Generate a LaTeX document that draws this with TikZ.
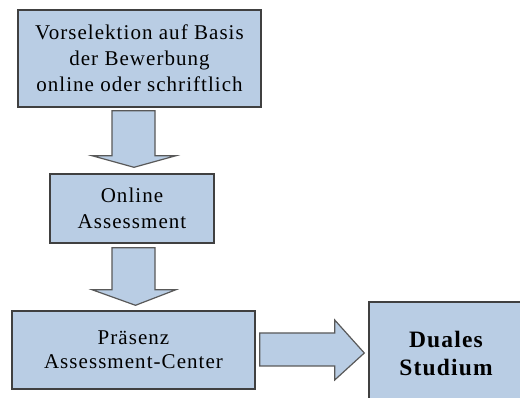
\documentclass[tikz,border=0pt]{standalone}
\usepackage{fontspec}
\setmainfont{Liberation Serif}[LetterSpace=5]
\begin{document}
\begin{tikzpicture}[x=1pt,y=-1pt,
  stepbox/.style={draw=black!75, line width=1.4pt, fill=boxblue, inner sep=0pt,
    align=center, font=\fontsize{21}{26}\selectfont},
  blockarrow/.style={draw=black!65, line width=1.2pt, fill=boxblue, line join=miter}]
\definecolor{boxblue}{HTML}{B9CDE4}
\clip (0,0) rectangle (520,398);
\fill[white] (0,0) rectangle (520,398);

% process boxes
\node[stepbox, minimum width=243pt, minimum height=97pt] (vor) at (139.5,58.5)
  {Vorselektion auf Basis\\der Bewerbung\\online oder schriftlich};
\node[stepbox, minimum width=164pt, minimum height=69pt] (onl) at (132,208.5)
  {Online\\Assessment};
\node[stepbox, minimum width=243pt, minimum height=78pt, font=\fontsize{21}{24}\selectfont] (pra) at (133.5,350)
  {Präsenz\\Assessment-Center};
\node[stepbox, minimum width=154pt, minimum height=102pt, font=\bfseries\fontsize{23.5}{28}\selectfont] (dual) at (446,353)
  {Duales\\Studium};

% block arrows between the boxes (yshift is measured upwards)
\draw[blockarrow] ([xshift=-27.5pt,yshift=-3pt]vor.south) -- ([xshift=15.5pt,yshift=-3pt]vor.south)
  -- ([xshift=15.5pt,yshift=-48pt]vor.south) -- ([xshift=36.5pt,yshift=-48pt]vor.south)
  -- ([xshift=2pt,yshift=6pt]onl.north) -- ([xshift=-47.5pt,yshift=-48pt]vor.south)
  -- ([xshift=-27.5pt,yshift=-48pt]vor.south) -- cycle;
\draw[blockarrow] ([xshift=-20pt,yshift=-4pt]onl.south) -- ([xshift=23pt,yshift=-4pt]onl.south)
  -- ([xshift=23pt,yshift=-46pt]onl.south) -- ([xshift=44pt,yshift=-46pt]onl.south)
  -- ([xshift=2pt,yshift=5pt]pra.north) -- ([xshift=-40pt,yshift=-46pt]onl.south)
  -- ([xshift=-20pt,yshift=-46pt]onl.south) -- cycle;
\draw[blockarrow] ([xshift=4pt,yshift=17pt]pra.east) -- ([xshift=79pt,yshift=17pt]pra.east)
  -- ([xshift=79pt,yshift=30pt]pra.east) -- ([xshift=-4pt]dual.west)
  -- ([xshift=79pt,yshift=-30pt]pra.east) -- ([xshift=79pt,yshift=-16pt]pra.east)
  -- ([xshift=4pt,yshift=-16pt]pra.east) -- cycle;
\end{tikzpicture}
\end{document}
